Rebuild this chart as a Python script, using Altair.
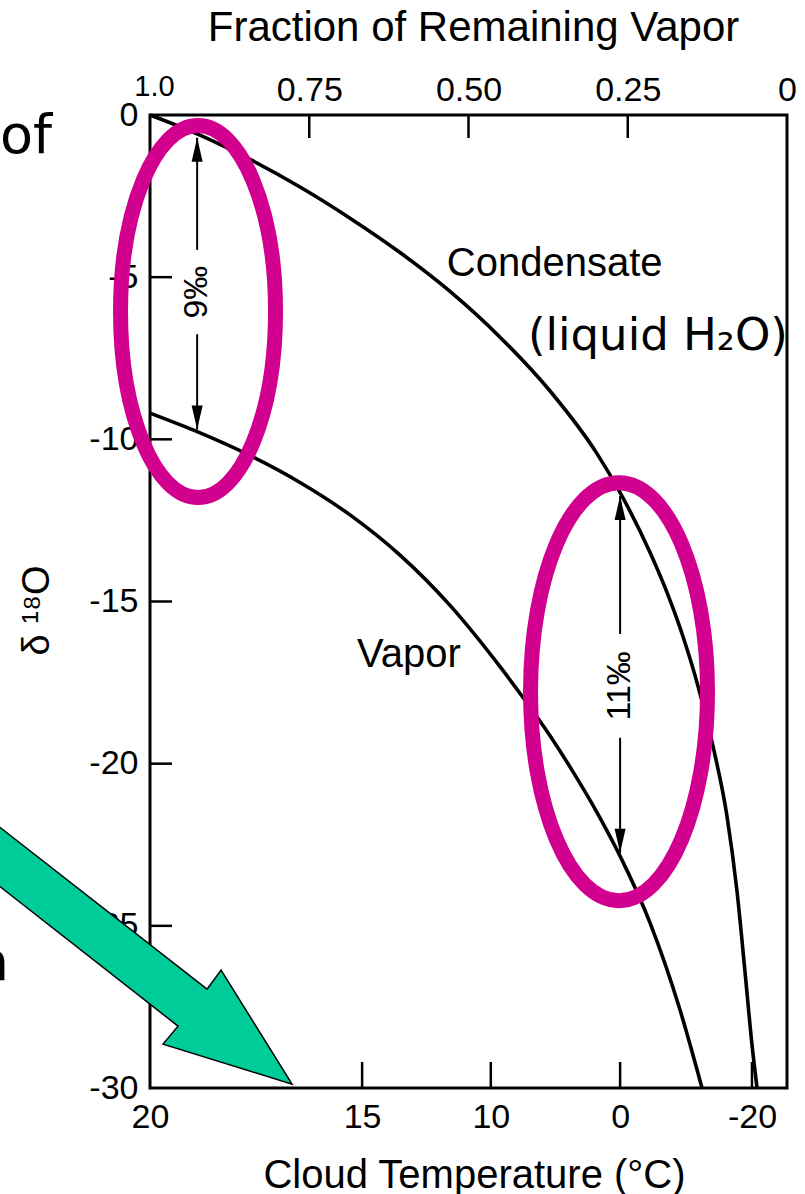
import altair as alt
import pandas as pd

# Rayleigh distillation of a cloud: delta-18O of condensate and vapour
# against the fraction of vapour still remaining in the cloud.
cond_frac = [1.000, 0.9215, 0.843, 0.7645, 0.686, 0.6075, 0.529, 0.4505, 0.372,
             0.2983, 0.262, 0.215, 0.1884, 0.1633, 0.1397, 0.1162, 0.0942,
             0.0785, 0.066, 0.055, 0.047]
cond_d18o = [0.0, -0.62, -1.37, -2.22, -3.18, -4.24, -5.44, -6.85, -8.51,
             -10.44, -11.64, -13.49, -14.72, -16.08, -17.61, -19.46, -21.62,
             -23.93, -26.40, -28.66, -30.0]

vap_frac = [1.000, 0.9325, 0.843, 0.7645, 0.686, 0.6075, 0.529, 0.4505, 0.4144,
            0.372, 0.3407, 0.2936, 0.262, 0.215, 0.168, 0.1334]
vap_d18o = [-9.19, -9.71, -10.50, -11.33, -12.33, -13.57, -15.12, -17.01,
            -17.96, -19.14, -20.10, -21.67, -22.85, -24.91, -27.59, -30.0]

# axis ticks
frac_ticks = [1.0, 0.75, 0.5, 0.25, 0.0]
frac_labels = ["1.0", "0.75", "0.50", "0.25", "0"]
temp_pos = [1.0, 0.667, 0.465, 0.262, 0.055]
temp_labels = ["20", "15", "10", "0", "-20"]
d18o_ticks = [0, -5, -10, -15, -20, -25, -30]

# condensate-to-vapour separation arrows
sep_frac = [0.926, 0.262]
sep_top = [-0.7, -11.75]
sep_span = [9, 11]
sep_label = ["9‰", "11‰"]
sep_label_d18o = [-5.46, -17.6]
sep_gap = [1.3, 1.6]

# curve names
curve_text = ["Condensate", "Vapor"]
curve_text_frac = [0.534, 0.675]
curve_text_d18o = [-4.96, -17.02]

# highlight rings around the two separations
ring_frac = [0.9246, 0.2637]
ring_d18o = [-6.06, -17.78]

# pointer arrow tip
pointer_frac = [0.777]
pointer_d18o = [-29.88]

# surrounding slide text
slide_text = ["of", "n"]
slide_frac = [1.2355, 1.2214]
slide_d18o = [-1.17, -26.67]
slide_align = ["left", "right"]
note_text = ["(liquid H₂O)"]
note_frac = [0.4066]
note_d18o = [-7.25]

W, H = 637, 973
FONT = "Liberation Sans"
SLIDE_FONT = "DejaVu Sans"
MAGENTA = "#D2008F"
GREEN = "#00CC99"

xs = alt.Scale(domain=[0, 1], reverse=True, nice=False, zero=False)
ys = alt.Scale(domain=[-30, 0], nice=False, zero=False)


def label_lookup(positions, labels):
    expr = ""
    for p, t in zip(positions, labels):
        expr += f"abs(datum.value - {p}) < 0.0005 ? '{t}' : "
    return expr + "''"


axis_common = dict(ticks=False, domain=False, grid=False, labelFont=FONT,
                   labelColor="black", labelOverlap=False,
                   labelFlush=False, titleFont=FONT,
                   titleFontWeight="normal", titleColor="black")

bottom_axis = alt.Axis(orient="bottom", values=temp_pos,
                       labelExpr=label_lookup(temp_pos, temp_labels),
                       labelFontSize=34, labelPadding=12,
                       title="Cloud  Temperature (°C)", titleFontSize=40,
                       titleX=324, titleY=99, titleAlign="center",
                       titleBaseline="alphabetic", **axis_common)

# the first fraction label sits a little higher, smaller and to the right
first_label = "datum.value == 1"
top_axis = alt.Axis(orient="top", values=frac_ticks,
                    labelExpr=label_lookup(frac_ticks, frac_labels),
                    labelFontSize={"condition": {"test": first_label, "value": 29},
                                   "value": 34},
                    labelPadding={"condition": {"test": first_label, "value": 14},
                                  "value": 8},
                    labelOffset={"condition": {"test": first_label, "value": 4},
                                 "value": 0},
                    title="Fraction of  Remaining Vapor", titleFontSize=42,
                    titleX=323, titleY=-75, titleAlign="center",
                    titleBaseline="alphabetic", **axis_common)
left_axis = alt.Axis(orient="left", values=d18o_ticks,
                     labelExpr="'' + datum.value", labelFontSize=34,
                     labelPadding=12,
                     title="δ ¹⁸O", titleFontSize=38, titleAngle=270,
                     titleX=-113, titleY=495,
                     titleAlign="center", titleBaseline="middle", **axis_common)

cond_df = pd.DataFrame({"f": cond_frac, "d": cond_d18o})
vap_df = pd.DataFrame({"f": vap_frac, "d": vap_d18o})

condensate = alt.Chart(cond_df).mark_line(
    color="black", strokeWidth=3.6, interpolate="monotone"
).encode(
    x=alt.X("f:Q", scale=xs, axis=bottom_axis),
    y=alt.Y("d:Q", scale=ys, axis=left_axis),
    order=alt.Order("f:Q", sort="descending"),
)

vapor = alt.Chart(vap_df).mark_line(
    color="black", strokeWidth=3.6, interpolate="monotone"
).encode(
    x=alt.X("f:Q", scale=xs, axis=top_axis),
    y=alt.Y("d:Q", scale=ys, axis=None),
    order=alt.Order("f:Q", sort="descending"),
)

# inward-pointing tick marks
left_ticks = alt.Chart(pd.DataFrame({"d": d18o_ticks[1:-1]})).mark_rule(
    color="black", strokeWidth=2.5
).encode(y=alt.Y("d:Q", scale=ys, axis=None), x=alt.value(0), x2=alt.value(22))

top_ticks = alt.Chart(pd.DataFrame({"f": frac_ticks[1:-1]})).mark_rule(
    color="black", strokeWidth=2.5
).encode(x=alt.X("f:Q", scale=xs, axis=None), y=alt.value(0), y2=alt.value(23))

bottom_ticks = alt.Chart(pd.DataFrame({"f": temp_pos[1:]})).mark_rule(
    color="black", strokeWidth=2.5
).encode(x=alt.X("f:Q", scale=xs, axis=None), y=alt.value(H), y2=alt.value(H - 26))

# separation arrows with their per-mil labels
sep_df = pd.DataFrame({"f": sep_frac, "top": sep_top, "span": sep_span,
                       "label": sep_label, "mid": sep_label_d18o, "gap": sep_gap})
sep_df["bottom"] = sep_df["top"] - sep_df["span"]
sep_df["gap_hi"] = sep_df["mid"] + sep_df["gap"]
sep_df["gap_lo"] = sep_df["mid"] - sep_df["gap"]

sep_base = alt.Chart(sep_df)
sep_up = sep_base.mark_rule(color="black", strokeWidth=2).encode(
    x=alt.X("f:Q", scale=xs, axis=None),
    y=alt.Y("top:Q", scale=ys, axis=None), y2="gap_hi:Q")
sep_down = sep_base.mark_rule(color="black", strokeWidth=2).encode(
    x=alt.X("f:Q", scale=xs, axis=None),
    y=alt.Y("gap_lo:Q", scale=ys, axis=None), y2="bottom:Q")
head_up = sep_base.mark_point(
    shape="M0,0L-0.23,1L0.23,1Z", size=2304, filled=True, fill="black",
    strokeWidth=0, opacity=1
).encode(x=alt.X("f:Q", scale=xs, axis=None), y=alt.Y("top:Q", scale=ys, axis=None))
head_down = sep_base.mark_point(
    shape="M0,0L-0.23,-1L0.23,-1Z", size=2304, filled=True, fill="black",
    strokeWidth=0, opacity=1
).encode(x=alt.X("f:Q", scale=xs, axis=None), y=alt.Y("bottom:Q", scale=ys, axis=None))
sep_text = sep_base.mark_text(
    angle=270, font=FONT, fontSize=34, color="black", align="center",
    baseline="middle"
).encode(x=alt.X("f:Q", scale=xs, axis=None),
         y=alt.Y("mid:Q", scale=ys, axis=None), text="label:N")

curve_labels = alt.Chart(pd.DataFrame({
    "f": curve_text_frac, "d": curve_text_d18o, "t": curve_text})).mark_text(
    font=FONT, fontSize=40, color="black", align="left", baseline="alphabetic"
).encode(x=alt.X("f:Q", scale=xs, axis=None),
         y=alt.Y("d:Q", scale=ys, axis=None), text="t:N")

note = alt.Chart(pd.DataFrame({"f": note_frac, "d": note_d18o, "t": note_text})).mark_text(
    font=SLIDE_FONT, fontSize=45, color="black", align="left", baseline="alphabetic"
).encode(x=alt.X("f:Q", scale=xs, axis=None),
         y=alt.Y("d:Q", scale=ys, axis=None), text="t:N")

slide_df = pd.DataFrame({"f": slide_frac, "d": slide_d18o, "t": slide_text,
                         "a": slide_align})
slide_left = alt.Chart(slide_df[slide_df["a"] == "left"]).mark_text(
    font=SLIDE_FONT, fontSize=54, color="black", align="left", baseline="alphabetic"
).encode(x=alt.X("f:Q", scale=xs, axis=None),
         y=alt.Y("d:Q", scale=ys, axis=None), text="t:N")
slide_right = alt.Chart(slide_df[slide_df["a"] == "right"]).mark_text(
    font=SLIDE_FONT, fontSize=54, color="black", align="right", baseline="alphabetic"
).encode(x=alt.X("f:Q", scale=xs, axis=None),
         y=alt.Y("d:Q", scale=ys, axis=None), text="t:N")


def ellipse_path(a):
    """Unit-height ellipse outline (x half-axis a) built from four cubic arcs."""
    k = 0.5523
    ka = k * a
    return (f"M0,-1C{ka:.4f},-1 {a:.4f},-{k} {a:.4f},0"
            f"C{a:.4f},{k} {ka:.4f},1 0,1"
            f"C-{ka:.4f},1 -{a:.4f},{k} -{a:.4f},0"
            f"C-{a:.4f},-{k} -{ka:.4f},-1 0,-1Z")


ring_df = pd.DataFrame({"f": ring_frac, "d": ring_d18o})
ring_styles = [(186, 77.5), (209, 88.5)]
rings = []
for i, (ry, rx) in enumerate(ring_styles):
    rings.append(
        alt.Chart(ring_df.iloc[[i]]).mark_point(
            shape=ellipse_path(rx / ry), size=(2 * ry) ** 2, filled=False,
            stroke=MAGENTA, strokeWidth=15, opacity=1
        ).encode(x=alt.X("f:Q", scale=xs, axis=None),
                 y=alt.Y("d:Q", scale=ys, axis=None))
    )

# block arrow, tip at the origin of its symbol path (1 unit = 100 px)
arrow_shape = ("M-4,-3.41L-0.85,-0.95L-0.71,-1.14L0,0L-1.29,-0.40"
               "L-1.14,-0.58L-4,-2.82Z")
pointer = alt.Chart(pd.DataFrame({"f": pointer_frac, "d": pointer_d18o})).mark_point(
    shape=arrow_shape, size=40000, filled=True, fill=GREEN, stroke="black",
    strokeWidth=1.5, opacity=1
).encode(x=alt.X("f:Q", scale=xs, axis=None), y=alt.Y("d:Q", scale=ys, axis=None))

chart = alt.layer(
    condensate, vapor, left_ticks, top_ticks, bottom_ticks,
    sep_up, sep_down, head_up, head_down, sep_text, curve_labels, note,
    rings[0], rings[1], slide_left, slide_right, pointer,
).resolve_axis(
    x="independent", y="independent"
).properties(
    width=W, height=H,
    padding={"left": 150, "top": 115, "right": 18, "bottom": 106},
    autosize=alt.AutoSizeParams(type="none"),
    background="white",
).configure_view(stroke="black", strokeWidth=3)

chart.save("out.html", embed_options={"renderer": "svg", "actions": False})
